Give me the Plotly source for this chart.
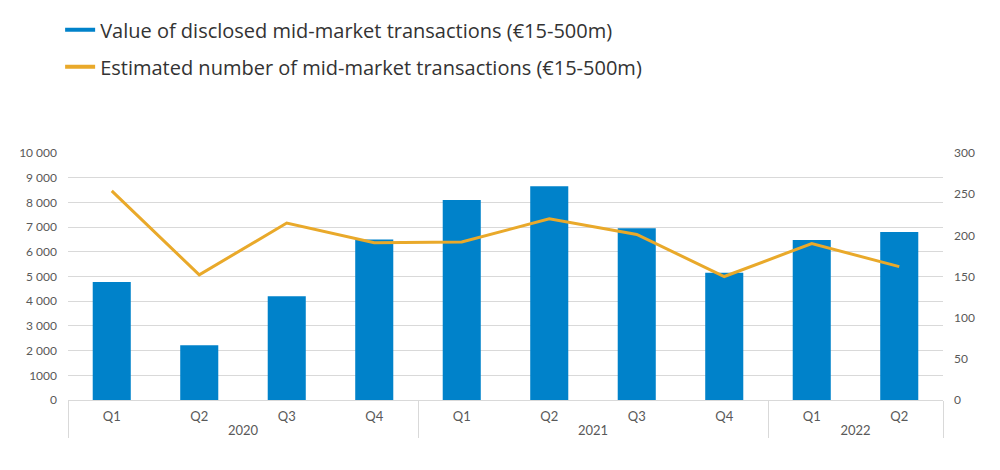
import plotly.graph_objects as go

years = ["2020", "2020", "2020", "2020", "2021", "2021", "2021", "2021", "2022", "2022"]
quarters = ["Q1", "Q2", "Q3", "Q4", "Q1", "Q2", "Q3", "Q4", "Q1", "Q2"]
deal_value = [4780, 2220, 4200, 6500, 8100, 8650, 6950, 5150, 6480, 6800]
deal_count = [254, 152, 215, 191, 192, 220, 201, 150, 190, 162]

left_ticks = [0, 1000, 2000, 3000, 4000, 5000, 6000, 7000, 8000, 9000, 10000]
left_ticktext = ["0", "1000", "2 000", "3 000", "4 000", "5 000", "6 000", "7 000", "8 000", "9 000", "10 000"]
right_ticks = [0, 50, 100, 150, 200, 250, 300]

name_value = "Value of disclosed mid-market transactions (€15-500m)"
name_count = "Estimated number of mid-market transactions (€15-500m)"

BLUE = "#0082CA"
ORANGE = "#E9A92A"
FONT = "Lato"

fig = go.Figure()
fig.add_trace(go.Bar(x=[years, quarters], y=deal_value, marker=dict(color=BLUE, line=dict(width=0)),
                     name=name_value, showlegend=False))
fig.add_trace(go.Scatter(x=[years, quarters], y=deal_count, yaxis="y2", mode="lines",
                         line=dict(color=ORANGE, width=3), name=name_count, showlegend=False))
# legend entries (line-style keys as in reference)
fig.add_trace(go.Scatter(x=[None], y=[None], mode="lines", line=dict(color=BLUE, width=4),
                         name=name_value, legendgroup="a"))
fig.add_trace(go.Scatter(x=[None], y=[None], mode="lines", line=dict(color=ORANGE, width=4),
                         name=name_count, legendgroup="b"))

fig.update_layout(
    width=1000, height=470,
    margin=dict(l=60, r=65, t=145, b=78, autoexpand=False),
    paper_bgcolor="white", plot_bgcolor="white",
    font=dict(family=FONT, color="#595959", size=12),
    bargap=0.565,
    legend=dict(x=-0.009, y=0.995, yref="container", xanchor="left", yanchor="top",
                font=dict(size=20, color="#333333", family="Open Sans"), tracegroupgap=8,
                itemwidth=30, bgcolor="rgba(0,0,0,0)"),
    xaxis=dict(type="multicategory", showgrid=False, showline=True, linecolor="#D9D9D9",
               linewidth=1, ticks="", showdividers=True, dividercolor="#D9D9D9", dividerwidth=1,
               ticklabelstandoff=4,
               automargin=False, tickfont=dict(size=13, color="#595959")),
    yaxis=dict(range=[0, 10000], tickvals=left_ticks, ticktext=left_ticktext,
               showgrid=True, gridcolor="#D9D9D9", gridwidth=1, zeroline=False,
               showline=False, ticks="", ticklabelstandoff=10, automargin=False,
               tickfont=dict(size=12, color="#595959")),
    yaxis2=dict(range=[0, 300], tickvals=right_ticks, overlaying="y", side="right",
                showgrid=False, zeroline=False, showline=False, ticks="", ticklabelstandoff=10,
                automargin=False, tickfont=dict(size=12, color="#595959")),
)

fig.write_html("out.html")
